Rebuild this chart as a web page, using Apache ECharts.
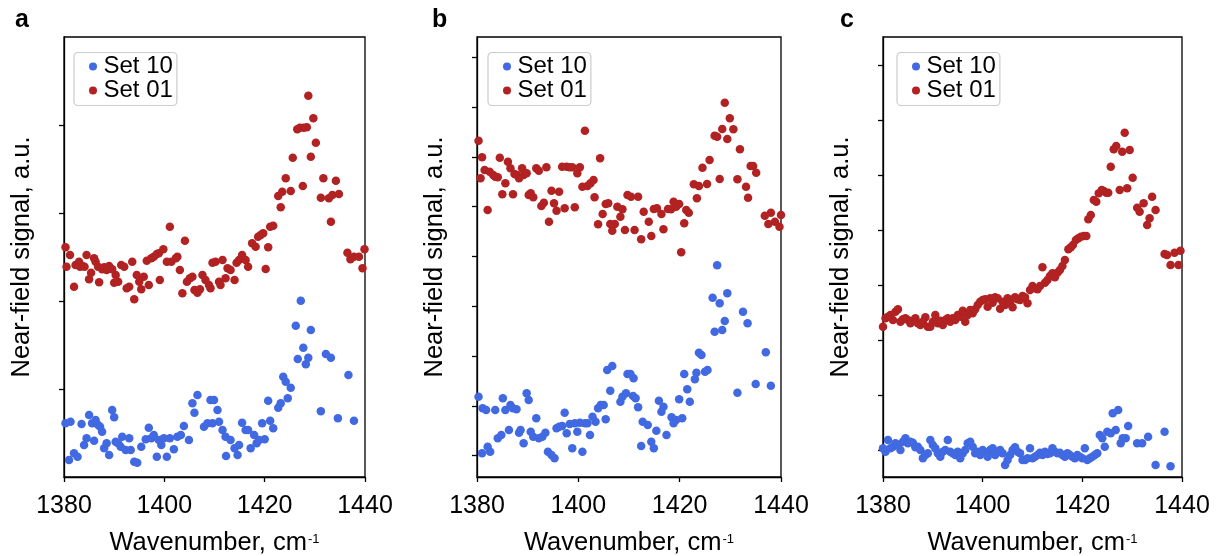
<!DOCTYPE html>
<html><head><meta charset="utf-8">
<script src="https://cdn.jsdelivr.net/npm/echarts@6/dist/echarts.min.js"></script>
<style>html,body{margin:0;padding:0;background:#fff}#chart{width:1225px;height:556px}</style>
</head><body><div id="chart"></div>
<script>
// ---------- DATA ----------
const panelLetters = ['a', 'b', 'c'];
const seriesNames = ['Set 10', 'Set 01'];
const xTickValues = [1380, 1400, 1420, 1440];
const xTitle = 'Wavenumber, cm';
const xTitleSup = '-1';
const yTitle = 'Near-field signal, a.u.';

// y tick positions (arbitrary units, labels hidden)
const yTicks_a = [88, 176, 264, 352];
const yTicks_b = [21.3, 71.1, 120.9, 170.7, 220.5, 270.3, 320.1, 369.9, 419.7];
const yTicks_c = [27, 82, 137, 192, 247, 302, 357, 412];

// panel a
const set10_a = [[1380.3,53.7],[1381.0,17],[1381.3,55.3],[1382.0,23.7],[1382.7,20.3],[1383.5,53],[1384.0,32],[1384.5,38.7],[1385.0,62],[1385.6,53.7],[1386.0,36.3],[1386.3,57],[1386.8,52],[1387.2,50.3],[1387.6,45.3],[1388.0,28.7],[1388.5,33.7],[1389.0,22],[1389.6,67],[1390.0,59.7],[1390.3,35.3],[1390.8,33.7],[1391.3,30.3],[1391.6,40.3],[1392.3,27],[1393.0,38.7],[1393.3,27],[1394.0,15.3],[1394.6,14.3],[1395.4,30.3],[1396.3,37.7],[1396.9,49.3],[1397.4,38.7],[1397.9,42],[1398.5,20.3],[1398.9,37],[1399.4,32],[1399.9,38.7],[1400.5,20.3],[1401.1,38.7],[1401.9,27.7],[1402.6,40.3],[1403.3,42],[1403.9,51],[1404.9,37],[1405.6,73.7],[1406.0,64.3],[1406.6,82],[1407.9,50.3],[1408.6,53.7],[1409.2,77],[1409.6,53.7],[1409.9,77],[1410.6,67],[1410.9,55.3],[1411.6,47],[1412.2,40.3],[1412.3,21],[1413.2,37],[1414.0,28.7],[1414.6,22],[1414.9,32],[1415.5,54.3],[1416.2,47],[1416.7,47],[1417.2,28.7],[1417.9,42],[1418.4,33.7],[1418.9,37],[1419.5,53.7],[1420.0,37.7],[1420.7,76.3],[1421.1,56.3],[1421.7,48.7],[1422.7,69.3],[1423.2,73.7],[1423.7,100.3],[1424.2,95.3],[1424.6,78.7],[1425.2,89.3],[1426.2,151.3],[1426.6,118],[1427.2,176.3],[1427.7,129.3],[1428.2,112.7],[1428.7,119.3],[1429.2,147],[1431.2,65.7],[1432.2,123],[1433.2,119.3],[1434.6,58.7],[1436.7,102],[1437.8,56.3]];
const set01_a = [[1380.3,229.7],[1380.5,210.3],[1381.2,222],[1382.0,190.3],[1382.3,212],[1383.0,215.3],[1383.2,210.3],[1383.7,211],[1384.1,210.3],[1384.5,222],[1385.0,197.7],[1385.4,204.3],[1386.0,218.7],[1386.3,215.3],[1386.8,210.3],[1387.0,194.7],[1387.6,207.7],[1388.0,209.7],[1388.5,207],[1389.0,211],[1389.6,207.7],[1390.0,194.3],[1390.3,202],[1390.8,195.3],[1391.4,212],[1392.0,210.3],[1392.5,188.7],[1393.0,190.3],[1393.6,215.3],[1394.0,177.7],[1394.5,202],[1395.0,195.3],[1395.4,187.7],[1395.9,200.3],[1396.5,216.3],[1396.9,192],[1397.4,218.7],[1397.9,220.3],[1398.5,223],[1398.9,223.7],[1399.1,197],[1399.8,227.7],[1400.5,215.3],[1401.1,250.3],[1401.4,215.3],[1402.3,218.7],[1402.6,220.3],[1403.1,207],[1403.6,183.7],[1404.1,236.3],[1404.5,195.3],[1405.1,198.7],[1405.6,200.3],[1406.0,187],[1406.6,184.3],[1407.1,187.7],[1407.6,202],[1408.2,197],[1408.9,192],[1409.2,188.7],[1409.6,214.3],[1410.2,215.3],[1410.9,195.3],[1411.2,192],[1411.6,217],[1412.2,198.7],[1412.6,208.7],[1413.2,207],[1414.0,197],[1414.4,214.3],[1414.9,217],[1415.5,222],[1416.2,217],[1416.7,210.3],[1417.5,233.7],[1418.2,230.3],[1418.7,240.3],[1419.2,242],[1419.7,243.7],[1420.2,208],[1420.7,229.7],[1421.1,250.3],[1421.7,251.3],[1422.7,281],[1423.2,269.7],[1423.5,285.3],[1424.2,298.7],[1425.2,286],[1425.6,319.3],[1426.5,347.7],[1427.0,349.3],[1427.6,291],[1427.8,349.3],[1428.4,349.7],[1428.7,381.3],[1429.2,320.3],[1429.7,358.7],[1430.2,334.3],[1431.2,279.3],[1431.7,298.7],[1432.8,278.7],[1433.2,255.3],[1433.5,282],[1434.2,296.3],[1434.8,283],[1436.5,224.3],[1437.1,217.7],[1437.8,220.3],[1438.8,220.3],[1439.5,208.7],[1439.9,227.7]];

// panel b
const set10_b = [[1380.3,80.3],[1381.0,23.7],[1381.1,68.7],[1381.8,67],[1382.1,30.3],[1382.6,25.3],[1383.6,67],[1384.1,38.7],[1384.8,42],[1385.1,78.7],[1385.6,67],[1386.3,47],[1386.6,72],[1387.1,68.7],[1387.8,67.7],[1388.3,44.3],[1388.6,47],[1389.2,33.7],[1389.8,83.7],[1390.2,77],[1390.6,45.3],[1391.1,40.3],[1391.7,58.7],[1392.2,38.7],[1392.9,40.3],[1393.5,44.3],[1394.0,25.3],[1394.7,22],[1395.3,18.7],[1395.7,48.7],[1396.2,50.3],[1396.8,51],[1397.3,64.3],[1397.7,43.7],[1398.3,53],[1398.8,28.7],[1399.3,53.7],[1399.8,45.3],[1400.3,54.3],[1400.8,25.3],[1401.3,53.7],[1401.8,53.7],[1402.3,42],[1402.8,60.3],[1403.4,55.3],[1403.9,68.7],[1404.4,72],[1405.0,72],[1405.4,57.7],[1405.7,107],[1406.3,86.3],[1406.7,111],[1408.3,75.3],[1408.7,80.3],[1409.4,83.7],[1409.7,103],[1410.3,103],[1410.8,81],[1410.9,98.7],[1411.3,78.7],[1411.8,69.7],[1412.4,31],[1412.7,55.3],[1413.7,52],[1414.4,35.3],[1414.9,28.7],[1415.4,46.3],[1415.9,76.3],[1416.4,65.3],[1416.8,70.3],[1417.4,42],[1418.4,59.7],[1418.8,53.7],[1419.3,57],[1419.9,77.7],[1420.5,58.7],[1420.9,103],[1421.5,87.7],[1422.0,75.3],[1423.0,97.7],[1423.3,104.3],[1423.8,124.3],[1424.3,122],[1425.0,105.3],[1425.5,107],[1426.5,179.3],[1426.9,145.3],[1427.4,211.7],[1427.9,173.7],[1428.4,147],[1428.9,156],[1429.4,183.7],[1431.4,84.3],[1432.5,165.3],[1433.4,153.7],[1435.0,93],[1437.0,124.7],[1438.0,91.3]];
const set01_b = [[1380.3,336.3],[1380.7,298.7],[1381.0,319.7],[1381.5,307],[1382.1,267],[1382.5,305.3],[1383.2,302],[1383.6,300.3],[1384.1,299.7],[1384.5,319.3],[1385.0,282.7],[1385.6,293.7],[1386.1,315.3],[1386.6,308.7],[1387.1,282.7],[1387.4,303],[1387.9,302],[1388.3,298.7],[1388.9,308.7],[1389.2,302],[1389.8,303.7],[1390.2,282],[1390.6,283.7],[1391.1,279.7],[1391.7,308.7],[1392.2,306.3],[1392.7,271],[1393.2,274.3],[1393.7,309.7],[1394.2,255.3],[1394.7,286.3],[1395.2,273.7],[1395.7,266.3],[1396.2,285.3],[1396.8,310.3],[1397.3,268.7],[1397.7,310.3],[1398.3,309.7],[1398.8,309.7],[1399.3,269.7],[1399.8,303.7],[1400.3,309.7],[1400.8,290.3],[1401.3,346.3],[1401.8,291],[1402.4,293.7],[1403.0,297],[1403.2,279.7],[1403.9,252.7],[1404.3,318.7],[1404.8,263],[1405.4,273],[1405.9,273.7],[1406.3,253],[1406.7,246.3],[1407.2,253],[1407.7,270.3],[1408.3,260.3],[1408.7,267.7],[1409.2,247],[1409.7,282],[1410.4,280.3],[1411.1,247],[1411.8,280.3],[1412.4,237.7],[1412.9,265.3],[1413.9,255.3],[1414.4,241],[1414.9,268],[1415.5,268.7],[1416.4,263],[1416.8,247.7],[1417.7,268],[1418.3,267.7],[1418.8,275.3],[1419.3,270.3],[1419.9,273],[1420.3,224.7],[1420.9,253.7],[1421.3,267],[1421.8,264.3],[1422.8,292.7],[1423.4,278.7],[1423.8,291],[1424.5,309.3],[1425.4,293],[1425.9,317],[1426.9,341.3],[1427.4,340.3],[1427.9,298],[1428.4,348],[1428.9,374.3],[1429.4,338],[1429.9,358.7],[1430.6,347.7],[1431.4,297.7],[1431.9,327.7],[1433.1,290.3],[1433.5,279.3],[1434.0,311],[1434.5,311],[1435.1,304.3],[1436.8,261.3],[1437.5,253],[1438.0,264.3],[1438.8,255.3],[1439.7,250.3],[1440.0,262]];

// panel c
const set10_c = [[1380.0,28.7],[1380.5,25.3],[1381.0,37],[1381.5,28.7],[1382.0,30.3],[1382.5,33.7],[1383.0,32],[1383.5,27],[1384.0,35.3],[1384.5,38.7],[1385.0,33.7],[1385.5,35.3],[1386.0,34.3],[1386.5,29.7],[1387.0,30.3],[1387.5,27],[1388.0,18.7],[1388.5,22],[1389.0,23.7],[1389.5,37],[1390.0,32],[1390.5,28.7],[1391.0,23.7],[1391.5,20.3],[1392.0,25.3],[1392.5,27],[1393.0,37],[1393.5,25.3],[1394.0,23.7],[1394.5,22],[1395.0,25.3],[1395.5,18.7],[1396.0,23.7],[1396.5,27],[1397.0,33.7],[1397.5,35.3],[1398.0,30.3],[1398.5,23.7],[1399.0,25.3],[1399.5,22],[1400.0,27],[1400.5,23.7],[1401.0,20.3],[1401.5,27],[1402.0,28.7],[1402.5,22],[1403.0,25.3],[1403.5,27],[1404.0,23.7],[1404.5,12],[1405.0,17],[1405.5,22],[1406.0,27],[1406.5,29.7],[1407.0,25.3],[1407.5,23.7],[1408.0,17],[1408.5,17],[1409.0,18.7],[1409.5,28.7],[1410.0,18.7],[1410.5,20.3],[1411.0,22],[1411.5,24.3],[1412.0,22],[1412.5,25.3],[1413.0,23],[1413.5,23.7],[1414.0,28.7],[1414.5,25.3],[1415.0,23.7],[1415.5,24.3],[1416.0,22],[1416.5,20.3],[1417.0,23.7],[1417.5,22],[1418.0,20.3],[1418.5,18.7],[1419.0,22],[1419.5,20.3],[1420.0,18.7],[1420.5,28.7],[1421.0,17],[1421.5,18.7],[1422.0,20.3],[1422.5,22],[1423.0,23.7],[1423.5,42],[1424.0,38.7],[1424.5,30.3],[1425.0,45.3],[1425.7,43.7],[1426.1,63.7],[1426.7,47],[1427.2,67],[1427.7,33.7],[1428.1,38.7],[1428.7,38.7],[1429.2,51],[1431.0,33.7],[1432.0,33.7],[1433.2,40.3],[1434.7,12],[1436.5,45.3],[1437.7,10.7]];
const set01_c = [[1380.0,150.3],[1380.5,158.7],[1381.0,160.3],[1381.5,162],[1382.0,157],[1382.5,165.3],[1383.0,167.7],[1383.5,155.3],[1384.0,157.7],[1384.5,158.7],[1385.0,157],[1385.5,153.7],[1386.0,156.3],[1386.5,158.7],[1387.0,153.7],[1387.5,152],[1388.0,155.3],[1388.5,159.7],[1389.0,150.3],[1389.5,150.3],[1390.0,155.3],[1390.5,162],[1391.0,153.7],[1391.5,156.3],[1392.0,152],[1392.5,157],[1393.0,158.7],[1393.5,155.3],[1394.0,158.7],[1394.5,157],[1395.0,162],[1395.5,160.3],[1396.0,166.3],[1396.5,155.3],[1397.0,162],[1397.5,167],[1398.0,163.7],[1398.5,167.7],[1399.0,172],[1399.5,175.3],[1400.0,177],[1400.5,177.7],[1401.0,170.3],[1401.5,178.7],[1402.0,174.3],[1402.5,179.7],[1403.0,178.7],[1403.5,168.3],[1404.0,175.3],[1404.5,172],[1405.0,178.7],[1405.5,174.3],[1406.0,169.7],[1406.5,179.7],[1407.0,177.7],[1407.5,177],[1408.0,181],[1408.5,179.7],[1409.0,173.7],[1409.5,187],[1410.0,191],[1410.5,188.7],[1411.0,187.7],[1411.5,191],[1412.0,209.7],[1412.5,194.3],[1413.0,197],[1413.5,201],[1414.0,203.7],[1414.5,199.7],[1415.0,204.3],[1415.5,207],[1416.0,211],[1416.5,217],[1417.2,227.7],[1417.7,229.7],[1418.1,232],[1418.7,237],[1419.2,238.7],[1419.7,240.3],[1420.3,241],[1420.8,241],[1421.2,257.7],[1421.7,262],[1422.3,277],[1422.8,275.3],[1423.3,283.7],[1423.9,287],[1424.3,286],[1424.8,284.3],[1425.2,284.3],[1425.7,310.3],[1426.3,327.7],[1426.8,331],[1427.5,287],[1428.0,325.3],[1428.5,344.3],[1429.0,288.7],[1429.5,327],[1430.1,299.3],[1431.0,269.3],[1431.5,265.3],[1432.3,273.7],[1433.0,252],[1433.5,258.7],[1434.0,280.3],[1434.7,267],[1436.5,223],[1437.0,222],[1437.7,212],[1438.5,224.3],[1439.3,212],[1439.7,226.3]];

// ---------- CHART ----------
const FONT = '"Liberation Sans", Arial, Helvetica, sans-serif';
const COLORS = { 'Set 10': '#4169E1', 'Set 01': '#B22222' };
const panelData = [
  { s10: set10_a, s01: set01_a, ticks: yTicks_a },
  { s10: set10_b, s01: set01_b, ticks: yTicks_b },
  { s10: set10_c, s01: set01_c, ticks: yTicks_c }
];
const gridBoxes = [
  { left: 64, top: 37, width: 301, height: 440 },
  { left: 477, top: 37, width: 304, height: 440 },
  { left: 883, top: 37, width: 299, height: 440 }
];
const legendLeft = [74, 488, 897];
const letterLeft = [15, 432, 840];

const option = {
  animation: false,
  backgroundColor: '#fff',
  title: panelLetters.map((t, i) => ({
    text: t, left: letterLeft[i], top: 8, padding: 0,
    textStyle: { fontSize: 25, fontWeight: 'bold', color: '#000', fontFamily: FONT }
  })),
  grid: gridBoxes.map(g => Object.assign({ show: true, borderColor: '#000', borderWidth: 1.3, backgroundColor: 'transparent', containLabel: false, outerBoundsMode: 'none' }, g)),
  legend: panelLetters.map((t, i) => ({
    data: seriesNames, orient: 'vertical', left: legendLeft[i], top: 52.5,
    padding: [2, 4, 3, 15], itemWidth: 11, itemHeight: 8, itemGap: 0, icon: 'circle',
    backgroundColor: '#fff', borderColor: '#cccccc', borderWidth: 1.2, borderRadius: 4,
    selectedMode: false,
    textStyle: { fontSize: 24, color: '#000', fontFamily: FONT, lineHeight: 24 }
  })),
  xAxis: panelLetters.map((t, i) => ({
    type: 'value', gridIndex: i, min: xTickValues[0], max: xTickValues[xTickValues.length - 1],
    interval: xTickValues[1] - xTickValues[0],
    name: xTitle + '{sup|' + xTitleSup + '}', nameLocation: 'middle', nameGap: 53,
    nameTextStyle: { fontSize: 25.5, color: '#000', fontFamily: FONT,
      rich: { sup: { fontSize: 13, color: '#000', fontFamily: FONT, padding: [0, 0, 8, 1] } } },
    axisLine: { show: true, lineStyle: { color: '#000', width: 1.3 } },
    axisTick: { show: true, inside: false, length: 5, lineStyle: { color: '#000', width: 1.3 } },
    axisLabel: { show: true, margin: 17, fontSize: 25, color: '#000', fontFamily: FONT,
      formatter: v => String(v) },
    splitLine: { show: false }
  })),
  yAxis: panelLetters.map((t, i) => ({
    type: 'value', gridIndex: i, min: 0, max: 440,
    name: yTitle, nameLocation: 'middle', nameGap: 29,
    nameTextStyle: { fontSize: 25.5, color: '#000', fontFamily: FONT },
    axisLine: { show: true, lineStyle: { color: '#000', width: 1.3 } },
    axisTick: { show: true, inside: false, length: 5, lineStyle: { color: '#000', width: 1.3 },
      customValues: panelData[i].ticks },
    axisLabel: { show: false },
    splitLine: { show: false }
  })),
  series: []
};

panelData.forEach((p, i) => {
  [['Set 10', p.s10], ['Set 01', p.s01]].forEach(([name, data]) => {
    option.series.push({
      type: 'scatter', name, xAxisIndex: i, yAxisIndex: i, data,
      symbol: 'circle', symbolSize: 8.5,
      itemStyle: { color: COLORS[name], opacity: 1 },
      emphasis: { disabled: true }, silent: true
    });
  });
});

const chart = echarts.init(document.getElementById('chart'), null, { renderer: 'canvas' });
chart.setOption(option);
</script>
</body></html>
